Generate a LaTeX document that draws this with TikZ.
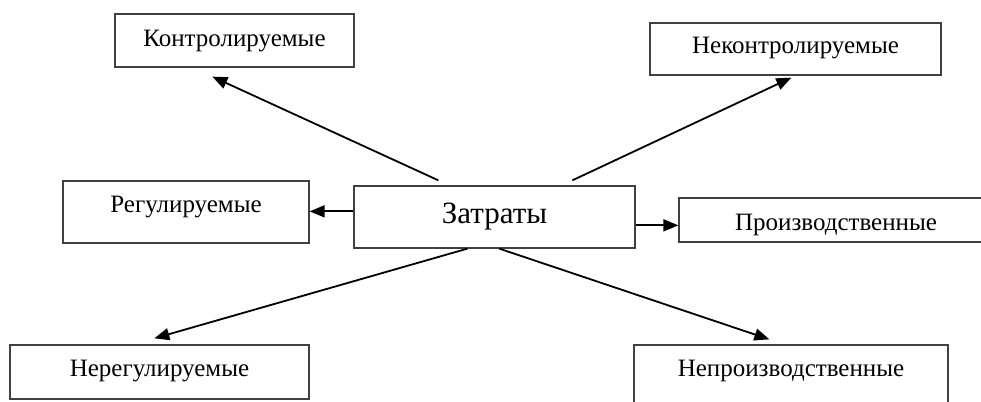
\documentclass[tikz,border=0pt]{standalone}
\usepackage{fontspec}
\setmainfont{Liberation Serif}
\usetikzlibrary{arrows.meta,calc}
\tikzset{
  box/.style={draw=black!75, line width=1.3pt, fill=white, rectangle, inner sep=0pt, anchor=base,
              font=\fontsize{25}{25}\selectfont},
  bigbox/.style={box, font=\fontsize{31}{31}\selectfont},
  arr/.style={draw=black, line width=1.8pt, -{Triangle[length=15pt,width=12pt]}},
}
\begin{document}
\begin{tikzpicture}[x=1pt,y=-1pt]
\clip (0,0) rectangle (981,401);
\fill[white] (0,0) rectangle (981,401);
\node[box, minimum width=239pt, text height=33pt, text depth=20pt] (K) at (234.5,47) {Контролируемые};
\node[box, minimum width=291pt, text height=31pt, text depth=21pt] (NK) at (795.5,54) {Неконтролируемые};
\node[box, minimum width=246pt, text height=31pt, text depth=31pt] (R) at (186,212) {Регулируемые};
\node[bigbox, minimum width=281pt, text height=37pt, text depth=25pt] (Z) at (494.5,223) {Затраты};
\node[box, minimum width=314pt, text height=32pt, text depth=12pt] (P) at (836,230) {Производственные};
\node[box, minimum width=299pt, text height=31pt, text depth=23pt] (NR) at (159.5,376) {Нерегулируемые};
\node[box, minimum width=314pt, text height=31pt, text depth=44pt] (NP) at (791,376) {Непроизводственные};
\coordinate (zk) at ($(Z.north west)+(85,-5)$);
\coordinate (kk) at ($(K.south west)+(98,9)$);
\coordinate (znk) at ($(Z.north west)+(219,-5)$);
\coordinate (nkk) at ($(NK.south west)+(142,2)$);
\coordinate (zr) at ($(Z.north west)+(0,26)$);
\coordinate (rr) at ($(R.north east)+(0,31)$);
\coordinate (zp) at ($(Z.north east)+(0,40)$);
\coordinate (pp) at ($(P.north west)+(0,28)$);
\coordinate (znr) at ($(Z.south west)+(114,0)$);
\coordinate (nrr) at ($(NR.north west)+(145,-6)$);
\coordinate (znp) at ($(Z.south west)+(146,0)$);
\coordinate (npp) at ($(NP.north west)+(136,-5)$);
\draw[arr] (zk) -- (kk);
\draw[arr] (znk) -- (nkk);
\draw[arr] (zr) -- (rr);
\draw[arr] (zp) -- (pp);
\draw[arr] (znr) -- (nrr);
\draw[arr] (znp) -- (npp);
\end{tikzpicture}
\end{document}
